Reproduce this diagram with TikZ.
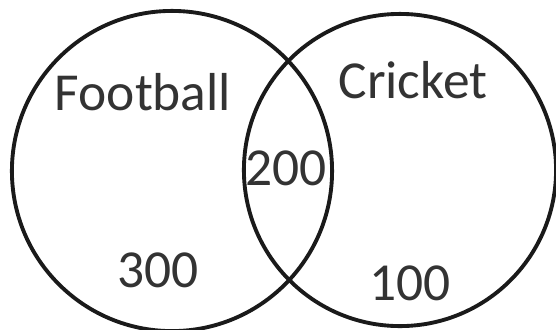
\documentclass[tikz,border=0pt]{standalone}
\usepackage{fontspec}
\setmainfont{Carlito}
\usetikzlibrary{positioning}
\definecolor{Ink}{HTML}{1A1A1A}
\definecolor{Label}{HTML}{333333}
\tikzset{
    setcircle/.style={circle, draw=Ink, line width=1.1pt, inner sep=0pt},
    setname/.style={anchor=base, text=Label, font=\fontsize{15.2}{16}\selectfont},
    count/.style={anchor=base, text=Label, font=\fontsize{15.2}{16}\selectfont},
}
\begin{document}
\begin{tikzpicture}[x=0.01cm, y=0.01cm]
                \useasboundingbox (0,0) rectangle (556,329);
                \clip (0,0) rectangle (556,329);

                % Insiemi
                \node[setcircle, minimum size=3.2cm] (football) at (172,158) {};
                \node[setcircle, minimum size=3.12cm] (cricket) at (400,159) {};

                % Nomi
                \node[setname] (footballname) at (143,219) {Football};
                \node[setname] (cricketname) at (413,231) {Cricket};

                % Valori
                \node[count] (both) at (286,144) {200};
                \node[count] (onlyfootball) at (158,42) {300};
                \node[count] (onlycricket) at (410,29) {100};
            \end{tikzpicture}
\end{document}
